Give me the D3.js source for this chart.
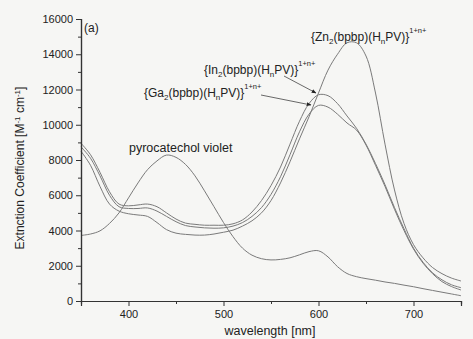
<!DOCTYPE html>
<html><head><meta charset="utf-8">
<script src="https://cdn.jsdelivr.net/npm/d3@7"></script>
<style>
html,body{margin:0;padding:0;background:#f6f6f4;}
svg{display:block;font-family:"Liberation Sans",Arial,sans-serif;}
</style></head>
<body>
<svg id="c" width="473" height="339"></svg>
<script>
// wavelengths (nm)
const wl = [350,360,370,380,390,400,410,420,430,440,450,460,470,480,490,500,510,520,530,540,550,560,570,580,590,600,610,620,630,640,650,660,670,680,690,700,710,720,730,740,750];
const pv = [3720,3800,3980,4400,5000,5850,6700,7450,7950,8280,8150,7750,7100,6250,5350,4450,3650,3000,2600,2400,2330,2360,2450,2620,2800,2850,2500,1950,1560,1380,1270,1180,1080,1000,900,810,700,600,500,400,300];
const zn = [8500,7700,6500,5500,5100,4950,4880,4800,4450,4050,3850,3780,3740,3740,3800,3900,4020,4250,4550,5000,5700,6700,7900,9200,10450,11800,13100,14000,14650,14650,13900,11800,8900,6300,4400,3200,2450,1900,1550,1300,1135];
const inn = [8950,8300,7300,6200,5500,5400,5450,5500,5350,5000,4650,4420,4350,4300,4300,4300,4380,4600,5050,5700,6550,7600,8900,10200,11200,11700,11650,11200,10500,9800,8900,7800,6600,5300,4100,3000,2200,1600,1200,920,755];
const ga = [8750,8100,7100,6000,5350,5250,5250,5280,5100,4800,4500,4280,4200,4150,4130,4150,4250,4450,4800,5300,6050,7050,8300,9600,10600,11100,11000,10600,10100,9700,8850,7700,6500,5200,4000,2950,2150,1550,1100,820,624];
const seriesList = [pv, zn, inn, ga];
const xTicks = [400,500,600,700];
const yTicks = [0,2000,4000,6000,8000,10000,12000,14000,16000];

const svg = d3.select("#c");
const x = d3.scaleLinear().domain([350,750]).range([81,461]);
const y = d3.scaleLinear().domain([0,16000]).range([301,19]);
const axisCol = "#333";

const line = d3.line().x((d,i)=>x(wl[i])).y(d=>y(d)).curve(d3.curveCatmullRom.alpha(0.5));
svg.append("g").selectAll("path").data(seriesList).join("path")
  .attr("d", line).attr("fill","none").attr("stroke","#7a7a7a").attr("stroke-width",1);

// axes
const xa = svg.append("g").attr("transform","translate(0,301)")
  .call(d3.axisBottom(x).tickValues(xTicks).tickSize(5).tickPadding(4).tickFormat(d3.format("d")));
const xm = svg.append("g").attr("transform","translate(0,301)")
  .call(d3.axisBottom(x).tickValues([450,550,650]).tickSize(3).tickFormat(""));
const ya = svg.append("g").attr("transform","translate(81,0)")
  .call(d3.axisLeft(y).tickValues(yTicks).tickSize(5).tickPadding(3).tickFormat(d3.format("d")));
const ym = svg.append("g").attr("transform","translate(81,0)")
  .call(d3.axisLeft(y).tickValues(d3.range(1000,16000,2000)).tickSize(3).tickFormat(""));
[xa,xm,ya,ym].forEach(g=>{
  g.select(".domain").attr("stroke",axisCol).attr("stroke-width",1.2);
  g.selectAll(".tick line").attr("stroke",axisCol);
  g.selectAll("text").attr("fill","#222").style("font-size","11px").style("font-family","Liberation Sans, Arial, sans-serif");
});

// axis titles
svg.append("text").attr("x",270).attr("y",335).attr("text-anchor","middle")
  .attr("fill","#222").style("font-size","12.5px").text("wavelength [nm]");
const yt = svg.append("text").attr("transform","translate(24,168) rotate(-90)").attr("text-anchor","middle")
  .attr("fill","#222").style("font-size","12px");
yt.append("tspan").text("Extnction Coefficient [M");
yt.append("tspan").attr("dy",-4).style("font-size","8px").text("-1");
yt.append("tspan").attr("dy",4).text(" cm");
yt.append("tspan").attr("dy",-4).style("font-size","8px").text("-1");
yt.append("tspan").attr("dy",4).text("]");

// annotations
svg.append("text").attr("x",84).attr("y",32).attr("fill","#222").style("font-size","12px").text("(a)");
svg.append("text").attr("x",129).attr("y",152).attr("fill","#222").style("font-size","12.5px").text("pyrocatechol violet");

function complexLabel(xp, yp, metal){
  const t = svg.append("text").attr("x",xp).attr("y",yp).attr("fill","#222").style("font-size","12px");
  t.append("tspan").text("{"+metal);
  t.append("tspan").attr("dy",3).style("font-size","8px").text("2");
  t.append("tspan").attr("dy",-3).text("(bpbp)(H");
  t.append("tspan").attr("dy",3).style("font-size","8px").text("n");
  t.append("tspan").attr("dy",-3).text("PV)}");
  t.append("tspan").attr("dy",-8).style("font-size","7.5px").text("1+n+");
}
complexLabel(311,41,"Zn");
complexLabel(204,74,"In");
complexLabel(144,97,"Ga");

// arrows
const defs = svg.append("defs");
defs.append("marker").attr("id","ah").attr("viewBox","0 0 10 10").attr("refX",9).attr("refY",5)
  .attr("markerWidth",6).attr("markerHeight",6).attr("orient","auto")
  .append("path").attr("d","M0,1L10,5L0,9Z").attr("fill","#222");
svg.append("line").attr("x1",284).attr("y1",76).attr("x2",316).attr("y2",93)
  .attr("stroke","#444").attr("stroke-width",0.8).attr("marker-end","url(#ah)");
svg.append("line").attr("x1",261).attr("y1",95).attr("x2",311).attr("y2",105)
  .attr("stroke","#444").attr("stroke-width",0.8).attr("marker-end","url(#ah)");
</script>
</body></html>
